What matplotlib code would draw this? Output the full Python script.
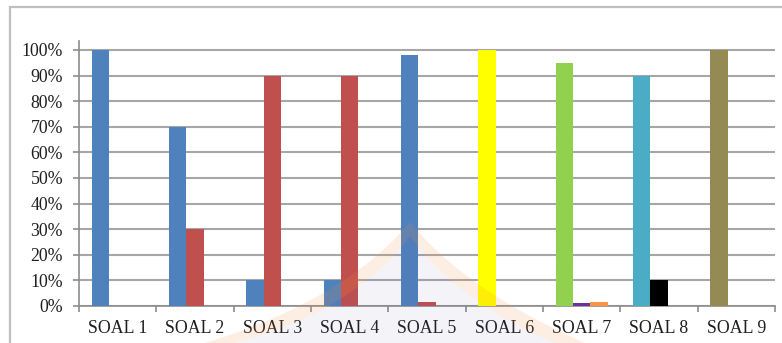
import matplotlib
matplotlib.use("Agg")
import matplotlib.pyplot as plt
from matplotlib.patches import Rectangle, PathPatch
from matplotlib.path import Path
import numpy as np

categories = ["SOAL 1", "SOAL 2", "SOAL 3", "SOAL 4", "SOAL 5",
              "SOAL 6", "SOAL 7", "SOAL 8", "SOAL 9"]
# three bar slots per question (percent)
values_first = [100, 70, 10, 10, 98, 100, 95, 90, 100]
values_second = [0, 30, 90, 90, 1.5, 0, 1.2, 10, 0]
values_third = [0, 0, 0, 0, 0, 0, 1.5, 0, 0]
colors_first = ["#4F81BD", "#4F81BD", "#4F81BD", "#4F81BD", "#4F81BD",
                "#FFFF00", "#92D050", "#4BACC6", "#948A54"]
colors_second = ["#C0504D", "#C0504D", "#C0504D", "#C0504D", "#C0504D",
                 "#C0504D", "#7030A0", "#000000", "#C0504D"]
colors_third = ["#F79646"] * 9
ytick_labels = ["0%", "10%", "20%", "30%", "40%", "50%",
                "60%", "70%", "80%", "90%", "100%"]

W, H = 782, 343
fig = plt.figure(figsize=(W / 100, H / 100), dpi=100)
fig.patch.set_facecolor("white")

# outer chart frame
fig.patches.append(Rectangle((10 / W, -0.2), 1.2, 1.2 - 6.5 / H,
                             transform=fig.transFigure, fill=False,
                             edgecolor="#BFBFBF", linewidth=1.6, zorder=0))

ax = fig.add_axes([79 / W, 1 - 306 / H, 696 / W, 265 / H])
ax.set_facecolor("none")

x = np.arange(len(categories))
bw = 0.224
ax.bar(x - bw, values_first, width=bw, color=colors_first, zorder=3)
ax.bar(x, values_second, width=bw, color=colors_second, zorder=3)
ax.bar(x + bw, values_third, width=bw, color=colors_third, zorder=3)

ax.set_xlim(-0.5, len(categories) - 0.5)
ax.set_ylim(0, 103.5)
ax.set_yticks(np.arange(0, 101, 10))
ax.set_yticklabels(ytick_labels)
ax.set_xticks(x)
ax.set_xticklabels(categories)
ax.set_xticks(np.arange(-0.5, len(categories)), minor=True)

for lab in ax.get_xticklabels() + ax.get_yticklabels():
    lab.set_fontfamily("Liberation Serif")
    lab.set_fontsize(12.8)
    lab.set_color("#1E1E1E")

ax.yaxis.grid(True, color="#A6A6A6", linewidth=1.5, zorder=1)
ax.set_axisbelow(True)
ax.tick_params(axis="x", which="major", length=0, pad=10)
ax.tick_params(axis="x", which="minor", length=4, color="#8C8C8C", width=1.2)
ax.tick_params(axis="y", length=4, color="#8C8C8C", width=1.2, pad=7.5)

for s in ["top", "right"]:
    ax.spines[s].set_visible(False)
for s in ["left", "bottom"]:
    ax.spines[s].set_color("#8C8C8C")
    ax.spines[s].set_linewidth(1.2)


# faint background logo watermark (pixel coords -> figure fraction)
def fp(px, py):
    return (px / W, 1 - py / H)


def quad(p0, p1, p2, n=30):
    t = np.linspace(0, 1, n)[:, None]
    p0, p1, p2 = map(np.array, (p0, p1, p2))
    return (1 - t) ** 2 * p0 + 2 * (1 - t) * t * p1 + t ** 2 * p2


apex = (410, 222)
left_out = quad(apex, (345, 300), (205, 343))
left_in = quad((410, 236), (352, 312), (235, 343))
right_out = quad(apex, (465, 290), (585, 343))
right_in = quad((410, 236), (458, 302), (555, 343))

band_l = np.vstack([left_out, left_in[::-1]])
band_r = np.vstack([right_out, right_in[::-1]])
tri = np.vstack([left_in, right_in[::-1]])

for pts, col, a in [(tri, "#5A5AA8", 0.07),
                    (band_l, "#F58A3C", 0.14),
                    (band_r, "#F58A3C", 0.14)]:
    verts = [fp(*p) for p in pts]
    path = Path(verts + [verts[0]],
                [Path.MOVETO] + [Path.LINETO] * (len(verts) - 1) + [Path.CLOSEPOLY])
    fig.add_artist(PathPatch(path, transform=fig.transFigure, facecolor=col,
                             edgecolor="none", alpha=a, zorder=10))

fig.savefig("out.png", dpi=100)
